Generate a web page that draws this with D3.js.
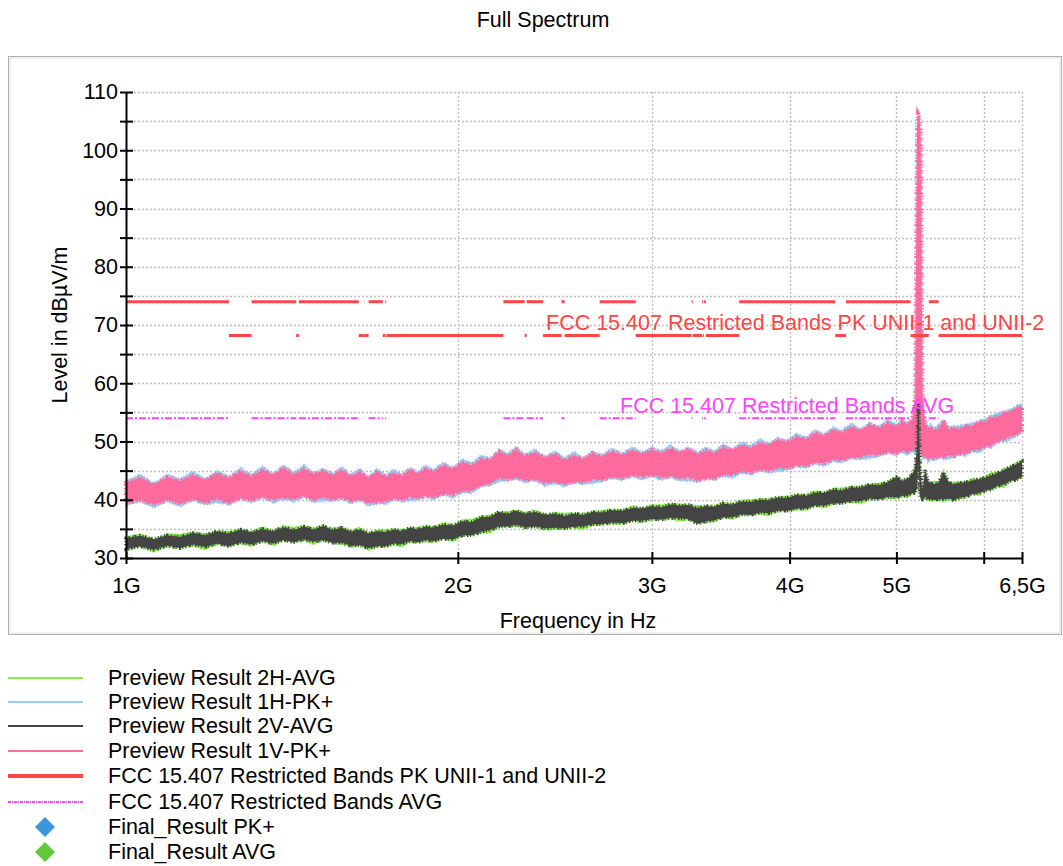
<!DOCTYPE html>
<html><head><meta charset="utf-8">
<script src="https://cdn.jsdelivr.net/npm/d3@7"></script>
<style>
body{margin:0;background:#fff;}
svg{display:block;}
text{font-family:"Liberation Sans",Arial,sans-serif;fill:#000;}
</style>
</head><body>
<svg id="c" width="1063" height="866"></svg>
<script>
// ---------- DATA ----------
const chartTitle = "Full Spectrum";
const xLabel = "Frequency in Hz";
const yLabel = "Level in dBµV/m";
const xTickValues = [1, 2, 3, 4, 5, 6, 6.5];          // GHz
const xTickLabels = ["1G", "2G", "3G", "4G", "5G", "", "6,5G"];
const yTickValues = [30,35,40,45,50,55,60,65,70,75,80,85,90,95,100,105,110];

const freqGHz = [
1.00,1.03,1.06,1.09,1.12,1.15,1.18,1.21,1.24,1.27,
1.30,1.33,1.36,1.39,1.42,1.45,1.48,1.51,1.54,1.57,
1.60,1.63,1.66,1.69,1.72,1.75,1.78,1.81,1.84,1.87,
1.90,1.94,1.98,2.02,2.06,2.10,2.14,2.18,2.22,2.26,
2.30,2.35,2.40,2.45,2.50,2.55,2.60,2.65,2.70,2.76,
2.82,2.88,2.94,3.00,3.06,3.12,3.18,3.24,3.30,3.36,
3.42,3.48,3.55,3.62,3.69,3.76,3.83,3.90,3.98,4.06,
4.14,4.22,4.30,4.38,4.46,4.55,4.64,4.73,4.82,4.91,
5.00,5.06,5.12,5.17,5.20,5.22,5.23,5.24,5.25,5.26,
5.28,5.31,5.34,5.37,5.40,5.46,5.52,5.58,5.64,5.70,
5.78,5.86,5.94,6.02,6.10,6.18,6.26,6.34,6.42,6.50];

// Preview Result 1V-PK+ (upper / lower envelope of the trace, dBµV/m)
const pk1V_hi = [
42.9,43.8,42.6,43.9,43.2,44.2,43.4,44.6,43.7,44.9,
44.0,45.2,44.2,45.5,44.3,45.3,44.4,45.0,44.2,45.1,
44.0,44.8,43.7,44.9,43.9,44.6,44.1,45.2,44.4,45.4,
44.8,45.9,45.3,46.5,45.9,47.0,46.9,48.3,47.6,48.6,
47.5,48.1,47.2,47.9,46.8,47.6,47.0,48.0,47.4,48.3,
47.7,48.5,47.9,48.6,48.0,48.8,48.1,48.7,47.8,48.5,
48.0,49.0,48.5,49.4,48.9,49.8,49.4,50.3,49.9,50.8,
50.4,51.5,51.0,52.0,51.5,52.5,51.9,52.9,52.3,53.2,
52.6,53.4,52.9,53.8,58.0,104.0,106.3,106.0,105.5,103.0,
58.0,53.0,52.3,52.5,51.9,52.2,53.6,52.0,52.4,52.1,
52.7,52.6,53.4,53.4,54.2,54.2,55.0,55.1,55.8,56.0];
const pk1V_lo = [
39.4,39.9,39.2,40.0,39.3,40.1,39.5,40.2,39.4,40.3,
39.9,40.5,40.0,40.4,40.1,40.7,39.9,40.5,40.0,40.4,
39.7,40.1,39.5,39.6,39.7,40.2,40.0,40.5,40.2,40.7,
40.4,41.0,40.9,41.5,41.6,42.5,42.8,43.8,43.5,43.8,
43.3,43.5,42.9,43.1,42.7,43.1,43.0,43.5,43.4,43.9,
43.7,44.2,44.0,44.3,43.8,44.1,43.6,43.9,43.3,43.7,
43.7,44.3,44.3,44.9,44.7,45.2,45.0,45.5,45.4,45.9,
45.8,46.4,46.3,46.9,46.8,47.3,47.3,47.8,47.7,48.2,
48.0,48.4,48.2,48.6,48.4,48.8,49.0,49.0,48.5,48.0,
47.5,47.4,47.0,47.3,47.1,47.4,47.3,47.7,47.5,47.9,
47.9,48.5,48.6,49.2,49.4,50.1,50.3,51.0,51.1,51.8];

// Preview Result 1H-PK+
const pk1H_hi = [
43.2,44.4,42.8,44.4,43.6,44.9,43.6,45.0,44.0,45.5,
44.3,45.8,44.4,46.0,44.7,46.0,44.6,45.4,44.5,45.7,
44.3,45.4,43.9,45.4,44.3,45.3,44.3,45.6,44.7,46.0,
45.1,46.5,45.5,47.0,46.3,47.7,47.1,48.7,47.9,49.2,
47.8,48.7,47.4,48.4,47.2,48.3,47.2,48.4,47.7,48.9,
48.0,49.1,48.1,49.1,48.4,49.5,48.3,49.1,48.1,49.1,
48.3,49.6,48.7,49.9,49.3,50.5,49.6,50.7,50.2,51.4,
50.7,52.1,51.2,52.5,51.9,53.2,52.1,53.3,52.6,53.8,
52.9,54.0,53.1,54.1,57.0,100.0,105.5,105.0,102.0,95.0,
57.0,53.6,52.5,53.0,52.3,52.9,53.8,52.4,52.7,52.7,
53.0,53.2,53.6,53.9,54.6,54.9,55.2,55.5,56.1,56.6];
const pk1H_lo = [
39.0,39.7,38.6,39.7,38.8,39.9,39.1,39.5,39.1,40.1,
39.5,40.3,39.4,40.1,39.6,40.5,39.5,39.8,39.7,40.2,
39.3,39.9,38.9,39.3,39.2,40.0,39.6,39.8,39.9,40.5,
40.0,40.8,40.3,41.2,41.1,42.3,42.4,43.1,43.2,43.6,
42.9,43.3,42.3,42.8,42.2,42.9,42.6,42.8,43.1,43.7,
43.3,44.0,43.4,44.0,43.3,43.9,43.2,43.2,43.0,43.5,
43.3,44.1,43.7,44.6,44.2,45.0,44.6,44.8,45.1,45.7,
45.4,46.2,45.7,46.6,46.3,47.1,46.9,47.1,47.4,48.0,
47.6,48.2,47.6,48.3,47.9,48.6,48.6,48.3,48.2,47.8,
47.1,47.2,46.4,47.0,46.6,47.2,46.9,47.0,47.2,47.7,
47.5,48.3,48.0,48.9,48.9,49.9,49.9,50.3,50.8,51.6];

// Preview Result 2V-AVG
const avg2V_hi = [
33.4,33.8,33.2,33.9,33.6,34.3,33.9,34.6,34.2,34.9,
34.4,35.0,34.6,35.3,34.8,35.4,34.9,35.5,34.8,35.2,
34.5,34.9,34.2,34.6,34.4,34.9,34.6,35.2,34.9,35.4,
35.2,35.7,35.6,36.3,36.2,37.0,37.1,37.9,37.6,38.1,
37.6,37.9,37.4,37.6,37.2,37.6,37.4,37.9,37.8,38.2,
38.1,38.6,38.5,38.9,38.7,39.2,39.0,39.1,38.6,38.9,
38.8,39.3,39.2,39.7,39.6,40.0,39.9,40.4,40.3,40.8,
40.7,41.2,41.2,41.7,41.6,42.1,42.1,42.6,42.5,43.0,
43.9,43.2,43.6,44.4,45.5,49.5,56.6,56.3,48.0,44.0,
41.5,45.1,43.2,42.8,42.7,42.9,44.8,42.9,42.7,42.9,
43.0,43.3,43.5,43.8,44.2,44.6,45.1,45.6,46.1,46.6];
const avg2V_lo = [
31.5,32.0,31.4,32.1,31.7,32.3,31.9,32.5,32.0,32.7,
32.3,32.9,32.5,33.1,32.7,33.2,32.8,33.1,32.6,32.6,
32.1,32.2,31.7,32.0,32.0,32.5,32.4,32.9,32.7,33.1,
32.9,33.3,33.2,33.9,33.9,34.5,34.8,35.4,35.4,35.7,
35.3,35.4,35.1,35.2,35.1,35.4,35.4,35.8,35.8,36.1,
36.0,36.4,36.4,36.7,36.6,36.9,36.8,36.7,35.9,36.3,
36.5,37.0,37.0,37.5,37.4,37.8,37.7,38.1,38.1,38.5,
38.5,39.0,39.0,39.4,39.4,39.8,39.8,40.2,40.1,40.5,
40.4,40.7,40.7,41.1,41.2,42.0,46.0,46.0,40.8,40.2,
40.1,40.5,40.1,40.1,39.9,40.1,40.1,40.2,39.9,40.4,
40.5,41.0,41.1,41.6,41.8,42.4,42.6,43.2,43.4,44.0];

// Preview Result 2H-AVG
const avg2H_hi = [
33.6,34.2,33.3,34.2,34.1,34.5,34.2,34.7,34.6,35.1,
34.6,35.4,34.7,35.6,35.3,35.6,35.2,35.6,35.2,35.4,
34.7,35.3,34.3,34.9,34.9,35.1,34.9,35.3,35.3,35.6,
35.4,36.1,35.7,36.6,36.7,37.2,37.4,38.0,38.0,38.3,
37.8,38.3,37.5,37.9,37.7,37.8,37.7,38.0,38.2,38.4,
38.3,39.0,38.6,39.2,39.2,39.4,39.3,39.2,39.0,39.1,
39.0,39.7,39.3,40.0,40.1,40.2,40.2,40.5,40.7,41.0,
40.9,41.6,41.3,42.0,42.1,42.3,42.4,42.7,42.9,43.2,
44.1,43.6,43.7,44.7,45.8,49.0,55.0,54.0,48.0,44.2,
42.0,45.3,43.3,43.1,43.2,43.1,45.1,43.0,43.1,43.1,
43.2,43.7,43.6,44.1,44.7,44.8,45.4,45.7,46.5,46.8];
const avg2H_lo = [
31.2,31.9,31.0,31.9,31.6,32.0,31.4,32.3,31.9,32.4,
32.0,32.8,32.1,32.9,32.6,32.9,32.3,32.9,32.5,32.3,
31.8,32.1,31.3,31.8,31.9,32.2,31.9,32.7,32.6,32.8,
32.6,33.2,32.8,33.7,33.8,34.2,34.3,35.2,35.3,35.4,
35.0,35.3,34.7,35.0,35.0,35.1,34.9,35.6,35.7,35.8,
35.7,36.3,36.0,36.5,36.5,36.6,36.3,36.5,35.8,36.0,
36.2,36.9,36.6,37.3,37.3,37.5,37.2,37.9,38.0,38.2,
38.2,38.9,38.6,39.2,39.3,39.5,39.3,40.0,40.0,40.2,
40.1,40.6,40.3,40.9,41.1,41.7,45.5,45.8,40.7,39.9,
39.8,40.4,39.7,39.9,39.8,39.8,39.6,40.0,39.8,40.1,
40.2,40.9,40.7,41.4,41.7,42.1,42.1,43.0,43.3,43.7];

// FCC 15.407 Restricted Bands PK UNII-1 and UNII-2 (segments)
const pkLimitStart = [1.0,1.24,1.30,1.427,1.435,1.6265,1.6455,1.6465,1.66,1.71,1.7188,1.7222,2.2,2.3,2.31,2.39,2.4835,2.5,2.69,2.9,3.26,3.267,3.332,3.339,3.3458,3.358,3.6,4.4,4.5,5.15,5.35,5.46];
const pkLimitEnd   = [1.24,1.30,1.427,1.435,1.6265,1.6455,1.6465,1.66,1.71,1.7188,1.7222,2.2,2.3,2.31,2.39,2.4835,2.5,2.69,2.9,3.26,3.267,3.332,3.339,3.3458,3.358,3.6,4.4,4.5,5.15,5.35,5.46,6.5];
const pkLimitLevel = [74,68.2,74,68.2,74,68.2,74,68.2,74,68.2,74,68.2,74,68.2,74,68.2,74,68.2,74,68.2,74,68.2,74,68.2,74,68.2,74,68.2,74,68.2,74,68.2];
// FCC 15.407 Restricted Bands AVG (segments)
const avgLimitStart = [1.0,1.30,1.435,1.6455,1.66,1.7188,2.2,2.31,2.4835,2.69,3.26,3.332,3.3458,3.6,4.5,5.35];
const avgLimitEnd   = [1.24,1.427,1.6265,1.6465,1.71,1.7222,2.3,2.39,2.5,2.9,3.267,3.339,3.358,4.4,5.15,5.46];
const avgLimitLevel = [54,54,54,54,54,54,54,54,54,54,54,54,54,54,54,54];

const legendNames = ["Preview Result 2H-AVG","Preview Result 1H-PK+","Preview Result 2V-AVG","Preview Result 1V-PK+",
  "FCC 15.407 Restricted Bands PK UNII-1 and UNII-2","FCC 15.407 Restricted Bands AVG","Final_Result PK+","Final_Result AVG"];
const pkLimitLabel = "FCC 15.407 Restricted Bands PK UNII-1 and UNII-2";
const avgLimitLabel = "FCC 15.407 Restricted Bands AVG";

// ---------- STYLE ----------
const C = {green:"#86f04a", blue:"#9ccbf6", dark:"#444444", pink:"#ff6b9c", red:"#ff4646", mag:"#ff44ff",
           dBlue:"#3c96dc", dGreen:"#62c83c", grid:"#bdbdbd"};
const FS = 21.5;

const svg = d3.select("#c");
const x = d3.scaleLog().domain([1, 6.5]).range([126, 1022]);
const y = d3.scaleLinear().domain([30, 110]).range([558, 92]);

// frame
svg.append("rect").attr("x",8.5).attr("y",56.5).attr("width",1053).attr("height",578)
  .attr("fill","none").attr("stroke","#b0b0b0").attr("stroke-width",1);
svg.append("rect").attr("x",10).attr("y",58).attr("width",1050).attr("height",575)
  .attr("fill","none").attr("stroke","#e2e2e2").attr("stroke-width",1);

// title
svg.append("text").attr("x",543).attr("y",27).attr("text-anchor","middle")
  .style("font-size",FS+"px").text(chartTitle);

// grid
const g = svg.append("g");
g.selectAll("line.hg").data(yTickValues.filter(v => v > 30)).enter().append("line")
  .attr("x1",126).attr("x2",1022).attr("y1",d=>Math.round(y(d))+0.5).attr("y2",d=>Math.round(y(d))+0.5)
  .attr("stroke",C.grid).attr("stroke-width",1.3).attr("stroke-dasharray","2,2");
g.selectAll("line.vg").data(xTickValues.filter(v => v > 1)).enter().append("line")
  .attr("y1",92).attr("y2",558).attr("x1",d=>Math.round(x(d))+0.5).attr("x2",d=>Math.round(x(d))+0.5)
  .attr("stroke",C.grid).attr("stroke-width",1.3).attr("stroke-dasharray","2,2");

// traces: filled envelope plus a ragged edge (dashed outline) to give the noisy look
const idx = d3.range(freqGHz.length);
function band(hi, lo, color, edge){
  const area = d3.area().x(i => x(freqGHz[i])).y0(i => y(lo[i])).y1(i => y(hi[i]));
  svg.append("path").datum(idx).attr("d", area).attr("fill", color);
  if (edge) {
    svg.append("path").datum(idx).attr("d", area).attr("fill","none")
      .attr("stroke", color).attr("stroke-width", edge.w).attr("stroke-dasharray", edge.dash);
  }
}
band(pk1H_hi, pk1H_lo, C.blue, {w:2, dash:"1,2,2,1,1,3"});
band(pk1V_hi, pk1V_lo, C.pink, {w:4, dash:"1,1.5,1,2.5,1.5,1,1,3,2,1.5"});
band(avg2H_hi, avg2H_lo, C.green, {w:1.5, dash:"1,3,1,2,2,4"});
band(avg2V_hi, avg2V_lo, C.dark, {w:3.5, dash:"1,1.5,1.5,2.5,1,1,2,3,1,2"});

// limit lines
svg.selectAll("line.pk").data(d3.range(pkLimitStart.length)).enter().append("line")
  .attr("x1", i => x(pkLimitStart[i])).attr("x2", i => x(pkLimitEnd[i]))
  .attr("y1", i => y(pkLimitLevel[i])).attr("y2", i => y(pkLimitLevel[i]))
  .attr("stroke", C.red).attr("stroke-width", 3);
svg.selectAll("line.av").data(d3.range(avgLimitStart.length)).enter().append("line")
  .attr("x1", i => x(avgLimitStart[i])).attr("x2", i => x(avgLimitEnd[i]))
  .attr("y1", i => y(avgLimitLevel[i])).attr("y2", i => y(avgLimitLevel[i]))
  .attr("stroke", C.mag).attr("stroke-width", 2).attr("stroke-dasharray","7,2,2,2");

// axes
const yAxis = d3.axisLeft(y).tickValues(yTickValues)
  .tickFormat(d => d % 10 === 0 ? d : "").tickSizeInner(6).tickSizeOuter(0).tickPadding(2);
const ya = svg.append("g").attr("transform","translate(126,0)").call(yAxis);
ya.selectAll(".tick line").attr("x1",7).attr("stroke","#000").attr("stroke-width",2);
ya.select(".domain").attr("stroke","#000").attr("stroke-width",2);
ya.selectAll(".tick text").style("font-size",FS+"px").style("font-family",'"Liberation Sans",Arial,sans-serif').attr("fill","#000");

const xAxis = d3.axisBottom(x).tickValues(xTickValues)
  .tickFormat((d,i) => xTickLabels[i]).tickSizeInner(6).tickSizeOuter(0).tickPadding(14);
const xa = svg.append("g").attr("transform","translate(0,558)").call(xAxis);
xa.selectAll(".tick line").attr("y1",-6).attr("stroke","#000").attr("stroke-width",2);
xa.select(".domain").attr("stroke","#000").attr("stroke-width",2);
xa.selectAll(".tick text").style("font-size",FS+"px").style("font-family",'"Liberation Sans",Arial,sans-serif').attr("fill","#000");

// axis labels
svg.append("text").attr("transform","translate(67,325) rotate(-90)").attr("text-anchor","middle")
  .style("font-size",FS+"px").text(yLabel);
svg.append("text").attr("x",578).attr("y",628).attr("text-anchor","middle")
  .style("font-size",FS+"px").text(xLabel);

// limit labels
svg.append("text").attr("x",546).attr("y",330).style("font-size",FS+"px").style("fill",C.red).text(pkLimitLabel);
svg.append("text").attr("x",620).attr("y",413).style("font-size",FS+"px").style("fill",C.mag).text(avgLimitLabel);

// legend
const rowY = [678,702,726,751,776,802,827,852];
const lg = svg.append("g");
const lineStyles = [
  {c:C.green,w:2},{c:C.blue,w:2},{c:C.dark,w:2},{c:C.pink,w:2},{c:C.red,w:4},{c:C.mag,w:2,dash:"3,1,1,1"}];
lineStyles.forEach((s,i) => {
  lg.append("line").attr("x1",8).attr("x2",83).attr("y1",rowY[i]).attr("y2",rowY[i])
    .attr("stroke",s.c).attr("stroke-width",s.w).attr("stroke-dasharray",s.dash||null);
});
[C.dBlue, C.dGreen].forEach((c,j) => {
  const cy = rowY[6+j], cx = 45;
  lg.append("path").attr("d",`M${cx},${cy-10}L${cx+10},${cy}L${cx},${cy+10}L${cx-10},${cy}Z`).attr("fill",c);
});
legendNames.forEach((n,i) => {
  lg.append("text").attr("x",108).attr("y",rowY[i]+7).style("font-size",FS+"px").text(n);
});
</script>
</body></html>
